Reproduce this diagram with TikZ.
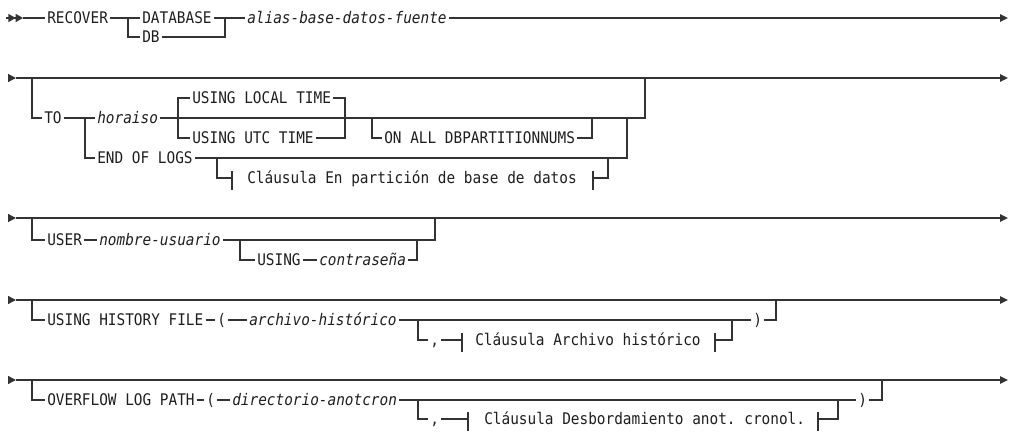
\documentclass[tikz,border=0pt]{standalone}
\usepackage{fontspec}
\setmonofont[FakeStretch=0.9]{DejaVu Sans Mono}
\usetikzlibrary{positioning,arrows.meta,calc}
\definecolor{railgrey}{HTML}{333333}
\definecolor{inkgrey}{HTML}{1E1E1E}
\newcommand\railfont{\ttfamily\fontsize{12}{14}\selectfont}

\begin{document}
\begin{tikzpicture}[
    x=0.75pt, y=-0.75pt,
    rail/.style={draw=railgrey, line width=1.05pt},
    fin/.style={-{Triangle[length=6pt,width=5.5pt]}},
    kw/.style={font=\railfont, text=inkgrey, anchor=west, inner xsep=1.5pt,
      inner ysep=0pt, text height=8.7pt, text depth=0pt},
    var/.style={kw, font=\railfont\itshape},
    starttip/.style={rail, -{Triangle[length=6pt,width=6pt]}},
    dbltip/.style={rail, -{Triangle[length=5.5pt,width=6pt]Triangle[length=5.5pt,width=6pt]}}
  ]
  \useasboundingbox (0,0) rectangle (1011,432);

  % fila 1
  \coordinate (s1) at (6,18);  \coordinate (s1t) at (23,18);
  \coordinate (e1) at (1008,18);
  \node[kw]  (recover)  at (45,18)  {RECOVER};
  \node[kw]  (database) at (140,18) {DATABASE};
  \node[kw]  (db)       at (140,37) {DB};
  \node[var] (alias)    at (245,18) {alias-base-datos-fuente};
  \coordinate (c1a) at (128,18);
  \coordinate (c1c) at (225,18);

  \draw[dbltip] (s1) -- (s1t);
  \draw[rail] (s1t) -- (recover);
  \draw[rail] (recover) -- (database);
  \draw[rail] (c1a) |- (db.west);
  \draw[rail] (db) -| (c1c);
  \draw[rail] (database) -- (alias);
  \draw[rail, fin] (alias) -- (e1);

  % fila 2
  \coordinate (s2) at (8,78);  \coordinate (s2t) at (16,78);
  \coordinate (e2) at (1008,78);
  \node[kw]  (to)        at (42,118)  {TO};
  \node[var] (horaiso)   at (95,118)  {horaiso};
  \node[kw]  (localtime) at (190,98)  {USING LOCAL TIME};
  \node[kw]  (utctime)   at (190,138) {USING UTC TIME};
  \node[kw]  (onall)     at (382,138) {ON ALL DBPARTITIONNUMS};
  \node[kw]  (endlogs)   at (95,158)  {END OF LOGS};
  \node[kw]  (clause2)   at (245,178) {Cláusula En partición de base de datos};
  \coordinate (c2a) at (32,78);
  \coordinate (c2b) at (85,118);
  \coordinate (c2c) at (178,118);
  \coordinate (c2d) at (345,118);
  \coordinate (c2e) at (372,118);
  \coordinate (c2f) at (592,118);
  \coordinate (c2i) at (217,158);
  \coordinate (c2j) at (608,158);
  \coordinate (c2h) at (627,118);
  \coordinate (c2top) at (645,78);
  \coordinate (k2l) at (232,178);
  \coordinate (k2r) at (593,178);

  \draw[starttip] (s2) -- (s2t);
  \draw[rail, fin] (s2t) -- (e2);
  \draw[rail] (c2a) |- (to.west);
  \draw[rail] (to) -- (horaiso);
  \draw[rail] (c2b) |- (endlogs.west);
  \draw[rail] (horaiso) -| (c2top);
  \draw[rail] (c2c) |- (localtime.west);
  \draw[rail] (c2c) |- (utctime.west);
  \draw[rail] (localtime) -| (c2d);
  \draw[rail] (utctime) -| (c2d);
  \draw[rail] (c2e) |- (onall.west);
  \draw[rail] (onall) -| (c2f);
  \draw[rail] (endlogs) -| (c2h);
  \draw[rail] (c2i) |- (k2l);
  \draw[rail] (k2r) -| (c2j);

  % fila 3
  \coordinate (s3) at (8,218);  \coordinate (s3t) at (16,218);
  \coordinate (e3) at (1008,218);
  \node[kw]  (user)   at (45,240)  {USER};
  \node[var] (nombre) at (97,240)  {nombre-usuario};
  \node[kw]  (using)  at (255,260) {USING};
  \node[var] (contra) at (317,260) {contraseña};
  \coordinate (c3a) at (32,218);
  \coordinate (c3b) at (240,240);
  \coordinate (c3c) at (417,240);
  \coordinate (c3top) at (435,218);

  \draw[starttip] (s3) -- (s3t);
  \draw[rail, fin] (s3t) -- (e3);
  \draw[rail] (c3a) |- (user.west);
  \draw[rail] (user) -- (nombre);
  \draw[rail] (nombre) -| (c3top);
  \draw[rail] (c3b) |- (using.west);
  \draw[rail] (using) -- (contra);
  \draw[rail] (contra) -| (c3c);

  % fila 4
  \coordinate (s4) at (8,300);  \coordinate (s4t) at (16,300);
  \coordinate (e4) at (1008,300);
  \node[kw]  (hist)    at (45,320)  {USING HISTORY FILE};
  \node[kw]  (lp4)     at (215,320) {(};
  \node[var] (archivo) at (247,320) {archivo-histórico};
  \node[kw]  (rp4)     at (751,320) {)};
  \node[kw]  (comma4)  at (428,340) {,};
  \node[kw]  (clause4) at (473,340) {Cláusula Archivo histórico};
  \coordinate (c4a) at (32,300);
  \coordinate (c4b) at (418,320);
  \coordinate (c4c) at (732,320);
  \coordinate (c4top) at (776,300);
  \coordinate (k4l) at (462,340);
  \coordinate (k4r) at (715,340);

  \draw[starttip] (s4) -- (s4t);
  \draw[rail, fin] (s4t) -- (e4);
  \draw[rail] (c4a) |- (hist.west);
  \draw[rail] (hist) -- (lp4);
  \draw[rail] (lp4) -- (archivo);
  \draw[rail] (archivo) -- (rp4);
  \draw[rail] (rp4) -| (c4top);
  \draw[rail] (c4b) |- (comma4.west);
  \draw[rail] (comma4) -- (k4l);
  \draw[rail] (k4r) -| (c4c);

  % fila 5
  \coordinate (s5) at (8,380);  \coordinate (s5t) at (16,380);
  \coordinate (e5) at (1008,380);
  \node[kw]  (overflow) at (45,400)  {OVERFLOW LOG PATH};
  \node[kw]  (lp5)      at (204,400) {(};
  \node[var] (dircron)  at (230,400) {directorio-anotcron};
  \node[kw]  (rp5)      at (856,400) {)};
  \node[kw]  (comma5)   at (428,419) {,};
  \node[kw]  (clause5)  at (482,419) {Cláusula Desbordamiento anot. cronol.};
  \coordinate (c5a) at (32,380);
  \coordinate (c5b) at (418,400);
  \coordinate (c5c) at (838,400);
  \coordinate (c5top) at (882,380);
  \coordinate (k5l) at (468,419);
  \coordinate (k5r) at (818,419);

  \draw[starttip] (s5) -- (s5t);
  \draw[rail, fin] (s5t) -- (e5);
  \draw[rail] (c5a) |- (overflow.west);
  \draw[rail] (overflow) -- (lp5);
  \draw[rail] (lp5) -- (dircron);
  \draw[rail] (dircron) -- (rp5);
  \draw[rail] (rp5) -| (c5top);
  \draw[rail] (c5b) |- (comma5.west);
  \draw[rail] (comma5) -- (k5l);
  \draw[rail] (k5r) -| (c5c);

  % marcas de clausula
  \foreach \k in {k2l,k2r,k4l,k4r,k5l,k5r}
    {\draw[rail] ($(\k)+(0,-7)$) -- ($(\k)+(0,12)$);}

\end{tikzpicture}
\end{document}
